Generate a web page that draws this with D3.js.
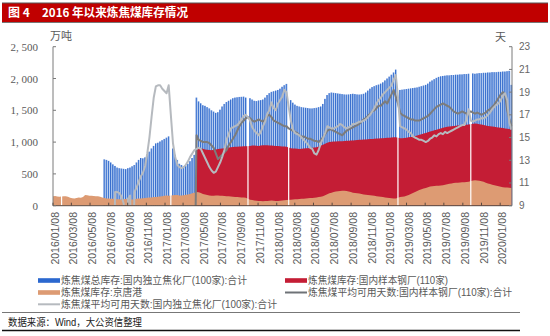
<!DOCTYPE html>
<html><head><meta charset="utf-8">
<script src="https://cdn.jsdelivr.net/npm/d3@7"></script>
<style>body{margin:0;background:#fff}svg{display:block}</style>
</head><body><svg id="c" width="550" height="336"></svg>
<script>
// ---------------- data ----------------
const firstWeek = "2016-01-08";
const lastWeek = "2020-02-14";
const xTickLabels = ["2016/01/08","2016/03/08","2016/05/08","2016/07/08","2016/09/08","2016/11/08",
  "2017/01/08","2017/03/08","2017/05/08","2017/07/08","2017/09/08","2017/11/08",
  "2018/01/08","2018/03/08","2018/05/08","2018/07/08","2018/09/08","2018/11/08",
  "2019/01/08","2019/03/08","2019/05/08","2019/07/08","2019/09/08","2019/11/08","2020/01/08"];
const leftTicks = [0, 500, 1000, 1500, 2000, 2500];
const rightTicks = [9, 11, 13, 15, 17, 19, 21, 23];

// 炼焦煤库存:京唐港 (万吨), weekly from 2016-01-08, null = no data
const jingtangStart = "2016-01-08";
const jingtang = [150,152,146,140,null,
 150,148,140,125,118,112,120,128,125,135,170,165,158,155,152,150,
 148,140,130,120,115,112,110,108,105,100,
 100,98,102,105,100,96,98,102,108,112,115,118,120,125,128,
 130,135,138,140,145,150,155,160,158,null,
 165,170,168,162,160,165,172,178,185,195,205,
 215,210,200,185,175,168,160,158,155,160,162,158,155,152,
 150,148,145,140,138,135,132,130,128,125,null,
 95,88,82,78,75,72,70,72,75,78,80,78,75,74,76,80,85,90,null,
 95,98,100,102,105,108,110,115,118,120,122,125,130,135,140,
 150,165,180,195,205,215,222,228,232,235,235,230,225,215,205,
 200,195,190,185,178,172,168,165,160,155,150,145,140,135,130,125,120,118,115,112,null,
 135,140,145,155,170,185,200,215,230,245,258,270,280,290,
 300,305,310,312,315,318,322,330,338,345,350,355,360,362,365,368,370,372,375,null,
 395,400,398,392,385,375,362,350,340,330,320,312,305,298,292,288,285,282,280];

// 炼焦煤库存:国内样本钢厂(110家) (万吨), weekly from 2017-04-21
const steelStart = "2017-04-21";
const steelStock = [880,905,900,895,885,880,875,870,878,885,890,895,900,905,910,915,920,922,925,928,930,932,935,935,null,
 940,945,945,942,940,945,950,952,950,948,945,942,940,938,935,932,930,925,null,
 905,900,898,895,892,895,900,902,905,908,910,915,920,930,945,
 960,975,990,1000,1005,1010,1010,1012,1015,1015,1018,1020,1022,1025,1025,
 1030,1032,1035,1038,1040,1042,1045,1048,1050,1052,1055,1058,1060,1062,1065,1068,1070,1072,1075,1078,null,
 1060,1062,1065,1070,1075,1080,1085,1095,1105,1115,1125,1135,1145,1155,
 1165,1175,1185,1195,1205,1215,1225,1232,1240,1245,1250,1255,1258,1262,1265,1268,1270,1272,1275,null,
 1290,1292,1288,1282,1275,1268,1260,1255,1250,1245,1240,1235,1230,1225,1220,1215,1210,1205,1200];

// 炼焦煤总库存:国内独立焦化厂(100家):合计 (万吨), weekly from 2016-06-24
const cokeStart = "2016-06-24";
const cokeStock = [729,
 720,705,680,650,625,600,590,
 585,580,575,590,600,620,640,680,720,
 750,745,760,800,850,900,940,980,
 990,1010,1030,1050,1070,1090,null,
 900,800,720,660,640,620,630,660,700,750,800,
 1700,1640,1610,1580,1570,1550,1530,1500,1480,1460,1470,1510,1560,1600,1630,1650,1670,1690,1700,1705,1710,1712,1715,1700,null,
 1690,1670,1650,1645,1655,1660,1670,1700,1740,1770,1790,1800,1810,1820,1840,1870,1895,1915,null,
 1660,1620,1590,1570,1560,1550,1545,1540,1535,1530,1530,1535,1540,1550,1560,
 1600,1680,1740,1770,1780,1775,1770,1765,1760,1755,1750,1748,1750,1755,1760,
 1755,1750,1748,1752,1760,1780,1810,1840,1865,1880,1895,1905,1920,1940,1970,2000,2030,2060,2095,2140,null,
 1820,1825,1830,1835,1840,1845,1850,1855,1860,1870,1880,1890,1900,1920,
 1950,1970,1990,2010,2025,2035,2040,2045,2050,2050,2055,2055,2060,2060,2065,2065,2070,2070,2075,null,
 2080,2075,2080,2085,2085,2090,2090,2095,2095,2100,2100,2100,2105,2105,2110,2110,2115,2120,1900];

// 炼焦煤平均可用天数:国内样本钢厂(110家):合计 (天), weekly from 2017-04-14
const steelDaysStart = "2017-04-14";
const steelDays = [0,
 15.2,14.8,14.7,14.6,14.6,14.6,14.5,14.3,14.1,13.6,13.1,13.3,13.5,13.7,
 13.9,14.3,14.6,14.9,15.2,15.6,16.0,16.3,16.5,16.7,16.8,16.7,
 16.5,16.4,16.5,16.6,16.5,16.4,16.6,16.9,17.0,16.8,16.5,16.4,16.3,16.2,16.1,16.0,16.0,15.8,
 15.7,15.6,15.5,15.4,15.2,15.1,15.1,15.0,14.9,14.9,14.8,14.7,14.7,14.6,14.8,
 15.0,15.3,15.6,15.7,15.7,15.6,15.5,15.4,15.3,15.2,15.4,15.6,15.7,15.8,15.9,
 16.0,16.1,16.2,16.4,16.6,16.7,16.9,17.1,17.3,17.4,17.6,17.8,17.8,18.0,18.2,18.0,18.4,18.8,19.2,18.6,18.0,
 17.2,17.0,16.9,16.8,16.7,16.6,16.6,16.5,16.5,16.5,16.6,16.7,16.8,16.9,
 17.1,17.3,17.5,17.7,17.8,17.9,18.0,17.9,17.8,17.7,17.5,17.3,17.2,17.1,17.2,17.3,17.2,17.1,17.2,
 17.3,17.2,17.1,17.2,17.1,17.0,17.1,17.2,17.4,17.5,17.7,17.9,18.2,18.5,18.8,19.0,18.8,17.4,16.6,16.0];

// 炼焦煤平均可用天数:国内独立焦化厂(100家):合计 (天), weekly from 2016-07-22
const cokeDaysStart = "2016-07-22";
const cokeDays = [0,10.2,10.2,10.1,9.8,9.2,0,9.6,9.9,0,10.2,10.6,
 11.1,11.6,11.9,12.5,13.6,15.0,16.8,18.5,19.5,19.6,19.6,19.3,19.1,18.9,19.6,
 17.0,14.5,13.3,12.6,12.4,12.3,12.4,12.6,12.9,13.3,13.6,13.9,
 14.0,14.1,14.0,13.6,13.2,12.8,12.4,12.1,11.9,12.0,12.4,12.8,13.3,13.9,
 14.8,15.3,15.8,15.9,16.0,16.1,16.3,16.6,16.9,17.0,16.8,16.5,
 15.9,15.6,15.4,15.2,15.5,16.0,16.4,17.1,17.4,18.1,17.6,17.4,18.0,18.3,18.6,19.2,19.0,17.7,
 16.5,15.7,15.4,15.3,15.2,15.0,14.8,14.6,14.4,14.1,14.0,13.6,13.5,13.9,14.5,
 14.9,15.4,16.0,15.9,15.8,15.8,15.9,16.0,16.2,16.1,15.9,15.8,15.9,16.0,16.2,
 16.2,16.3,16.4,16.4,16.5,16.6,16.8,17.0,17.3,17.6,18.0,18.3,18.5,18.8,19.0,19.2,19.4,19.6,20.1,20.5,18.6,
 16.0,15.9,15.8,15.7,15.5,15.4,15.1,15.0,14.9,14.8,14.8,14.7,14.6,14.7,
 14.9,15.0,15.2,15.1,15.3,15.4,15.3,15.5,15.4,15.5,15.6,15.7,15.8,15.9,16.0,16.1,16.1,16.6,17.5,
 16.5,16.4,16.5,16.6,16.6,16.7,16.7,16.8,17.0,17.2,17.5,17.7,17.9,18.0,18.3,18.7,18.9,18.3,16.3,15.7];

const legendNames = ["炼焦煤总库存:国内独立焦化厂(100家):合计", "炼焦煤库存:国内样本钢厂(110家)",
  "炼焦煤库存:京唐港", "炼焦煤平均可用天数:国内样本钢厂(110家):合计",
  "炼焦煤平均可用天数:国内独立焦化厂(100家):合计"];

// ---------------- drawing ----------------
const C = {blue1:"#1452c2", blue2:"#8db3ea", red:"#c41d35", orange:"#dd9b73",
           dark:"#7c7c7c", light:"#b6babf", axis:"#7a7a7a", text:"#595959"};
const FONT = "'Liberation Sans','Noto Sans CJK SC',sans-serif";
const svg = d3.select("#c");
const pDate = d3.timeParse("%Y-%m-%d");
const pTick = d3.timeParse("%Y/%m/%d");
const L = 53, R = 511.5, T = 46.7, B = 205.7;
const x = d3.scaleTime().domain([pDate(firstWeek), pDate(lastWeek)]).range([L, R]);
const yL = d3.scaleLinear().domain([0, 2500]).range([B, T]);
const yR = d3.scaleLinear().domain([9, 23]).range([B, T]);

function series(start, vals){
  const s = pDate(start);
  return vals.map((v,i)=>({d:d3.timeDay.offset(s, 7*i), v}));
}
const sJT = series(jingtangStart, jingtang);
const sST = series(steelStart, steelStock);
const sCK = series(cokeStart, cokeStock);
const sSD = series(steelDaysStart, steelDays);
const sCD = series(cokeDaysStart, cokeDays);

const defs = svg.append("defs");
const g1 = defs.append("linearGradient").attr("id","bg").attr("x1",0).attr("x2",1).attr("y1",0).attr("y2",0);
g1.append("stop").attr("offset",0).attr("stop-color",C.blue1);
g1.append("stop").attr("offset",1).attr("stop-color",C.blue2);
defs.append("clipPath").attr("id","clip").append("rect").attr("x",L).attr("y",T-2).attr("width",R-L+1).attr("height",B-T+2);

// title bar
svg.append("rect").attr("x",2).attr("y",3).attr("width",546).attr("height",19.5).attr("fill","#c00000");
svg.append("line").attr("x1",2).attr("x2",548).attr("y1",3).attr("y2",3).attr("stroke","#555").attr("stroke-width",1);
svg.append("line").attr("x1",2).attr("x2",548).attr("y1",22.5).attr("y2",22.5).attr("stroke","#777").attr("stroke-width",1);
svg.append("text").attr("x",8).attr("y",17.3).attr("fill","#fff").attr("font-size",12).attr("font-weight","bold")
  .attr("font-family","'Noto Sans CJK SC',sans-serif").text("图 4");
svg.append("text").attr("x",42).attr("y",17.3).attr("fill","#fff").attr("font-size",12).attr("font-weight","bold")
  .attr("font-family","'Noto Sans CJK SC',sans-serif").attr("textLength",146).attr("lengthAdjust","spacingAndGlyphs")
  .text("2016 年以来炼焦煤库存情况");

const plot = svg.append("g").attr("clip-path","url(#clip)");

// bars
plot.append("g").selectAll("rect").data(sCK.filter(d=>d.v!=null)).join("rect")
  .attr("x", d=>x(d.d)-0.85).attr("width",1.7)
  .attr("y", d=>yL(d.v)).attr("height", d=>yL(0)-yL(d.v)).attr("fill","url(#bg)");

// areas (bridging missing weeks, which are then marked with a thin white gap)
function areaOf(s){
  return d3.area().x(d=>x(d.d)).y0(yL(0)).y1(d=>yL(d.v))(s.filter(d=>d.v!=null));
}
plot.append("path").attr("d", areaOf(sST)).attr("fill", C.red);
plot.append("path").attr("d", areaOf(sJT)).attr("fill", C.orange);

// gap markers at missing weeks
function bridged(s, i){ return (s[i-1].v + s[i+1].v)/2; }
const gaps = [];
sJT.forEach((d,i)=>{ if(d.v==null){
  let top = bridged(sJT,i);
  const j = sST.findIndex(e=>+e.d===+d.d);
  if(j>0) top = Math.max(top, bridged(sST,j));
  gaps.push({d:d.d, top});
}});
plot.append("g").selectAll("rect").data(gaps).join("rect")
  .attr("x", d=>x(d.d)-0.6).attr("width",1.2).attr("y", d=>yL(d.top)-0.5)
  .attr("height", d=>yL(0)-yL(d.top)+0.5).attr("fill","#fff");

// lines
const lineR = d3.line().x(d=>x(d.d)).y(d=>yR(d.v));
plot.append("path").attr("d", lineR(sSD)).attr("fill","none").attr("stroke",C.dark).attr("stroke-width",2).attr("stroke-linejoin","round");
plot.append("path").attr("d", lineR(sCD)).attr("fill","none").attr("stroke",C.light).attr("stroke-width",2).attr("stroke-linejoin","round");

// axes
const ax = svg.append("g");
ax.append("line").attr("x1",L).attr("x2",L).attr("y1",T).attr("y2",B).attr("stroke",C.axis);
ax.append("line").attr("x1",512).attr("x2",512).attr("y1",T).attr("y2",B).attr("stroke",C.axis);
ax.append("line").attr("x1",L).attr("x2",512).attr("y1",B).attr("y2",B).attr("stroke","#5a4a40");
ax.selectAll(".lt").data(leftTicks).join("line").attr("x1",L).attr("x2",L+3)
  .attr("y1",d=>yL(d)).attr("y2",d=>yL(d)).attr("stroke",C.axis);
ax.selectAll(".rt").data(rightTicks).join("line").attr("x1",512-3).attr("x2",512)
  .attr("y1",d=>yR(d)).attr("y2",d=>yR(d)).attr("stroke",C.axis);
ax.selectAll(".bt").data(xTickLabels).join("line").attr("x1",d=>x(pTick(d))).attr("x2",d=>x(pTick(d)))
  .attr("y1",B).attr("y2",B-3).attr("stroke","#5a4a40");

const fmt = v => v>=1000 ? d3.format(",")(v).replace(",", ", ") : String(v);
svg.selectAll(".ll").data(leftTicks).join("text").attr("x",38).attr("y",d=>yL(d))
  .attr("text-anchor","end").attr("dominant-baseline","central").attr("font-size",11)
  .attr("font-family","'Liberation Serif',serif").attr("fill",C.text).text(fmt);
svg.selectAll(".rl").data(rightTicks).join("text").attr("x",519).attr("y",d=>yR(d))
  .attr("dominant-baseline","central").attr("font-size",10)
  .attr("font-family","'Liberation Sans',Arial,sans-serif").attr("fill","#666").text(d=>d);
svg.selectAll(".xl").data(xTickLabels).join("text")
  .attr("transform", d=>`translate(${x(pTick(d))+2},212) rotate(-90)`)
  .attr("text-anchor","end").attr("dominant-baseline","central").attr("font-size",10.5)
  .attr("font-family","'Liberation Sans',Arial,sans-serif").attr("fill",C.text).text(d=>d);

svg.append("text").attr("x",50).attr("y",35).attr("dominant-baseline","central").attr("font-size",11)
  .attr("font-family","'Noto Sans CJK SC',sans-serif").attr("fill",C.text).text("万吨");
svg.append("text").attr("x",495).attr("y",36).attr("dominant-baseline","central").attr("font-size",11)
  .attr("font-family","'Noto Sans CJK SC',sans-serif").attr("fill",C.text).text("天");

// legend
const lg = svg.append("g").attr("font-family",FONT).attr("font-size",10).attr("fill",C.text);
const items = [
  {n:0, x:38, y:280.5, type:"rect", c:"#2b68cf", w:186},
  {n:1, x:285, y:280.5, type:"rect", c:C.red, w:140},
  {n:2, x:38, y:292.5, type:"rect", c:C.orange, w:81},
  {n:3, x:285, y:292.5, type:"line", c:"#6e7277", w:204},
  {n:4, x:38, y:304.3, type:"line", c:C.light, w:216}];
items.forEach(it=>{
  if(it.type==="rect") lg.append("rect").attr("x",it.x).attr("y",it.y-2.3).attr("width",22).attr("height",4.6).attr("fill",it.c);
  else lg.append("line").attr("x1",it.x).attr("x2",it.x+22).attr("y1",it.y).attr("y2",it.y).attr("stroke",it.c).attr("stroke-width",2);
  lg.append("text").attr("x",it.x+23).attr("y",it.y+3.6).attr("textLength",it.w).attr("lengthAdjust","spacingAndGlyphs")
    .text(legendNames[it.n]);
});

svg.append("line").attr("x1",2).attr("x2",520).attr("y1",312.5).attr("y2",312.5).attr("stroke","#777").attr("stroke-width",1);
svg.append("text").attr("x",8).attr("y",325.8).attr("font-size",10.5).attr("textLength",134).attr("lengthAdjust","spacingAndGlyphs")
  .attr("font-family",FONT).attr("fill","#222").text("数据来源：Wind，大公资信整理");
svg.append("line").attr("x1",2).attr("x2",520).attr("y1",330.5).attr("y2",330.5).attr("stroke","#111").attr("stroke-width",1.5);
</script></body></html>
